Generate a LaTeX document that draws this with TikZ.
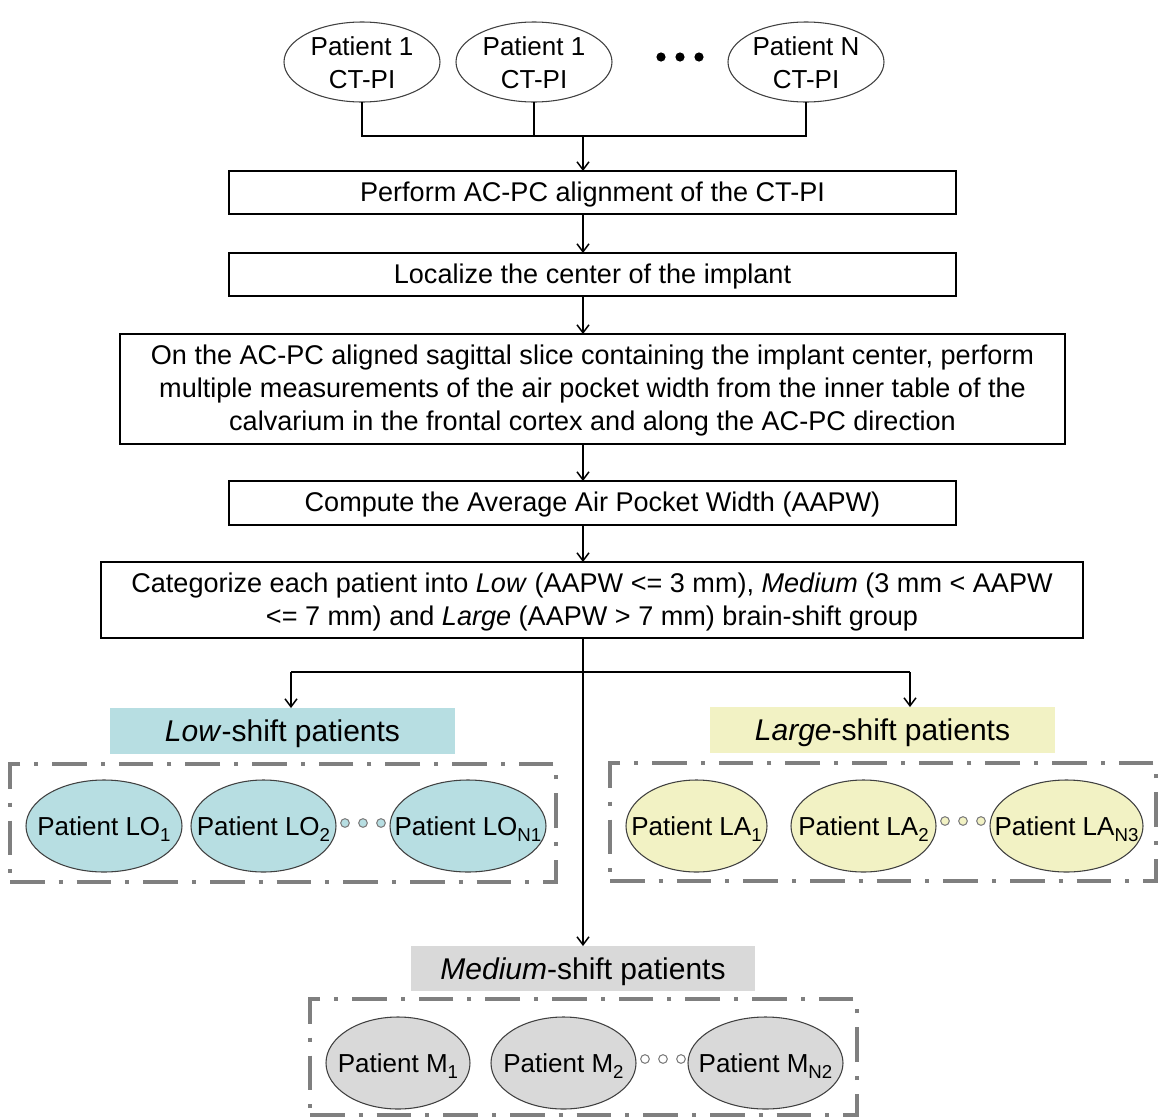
\documentclass[tikz,border=0pt]{standalone}
\usepackage{fontspec}
\setmainfont{Liberation Sans}
\usetikzlibrary{arrows.meta,shapes.geometric}
\definecolor{lblue}{HTML}{B7DEE2}
\definecolor{lyel}{HTML}{F2F2C4}
\definecolor{lgray}{HTML}{D9D9D9}
\definecolor{frgray}{HTML}{7F7F7F}
\definecolor{edge}{HTML}{404040}
\newcommand\ztext[1]{\makebox[0pt]{\raisebox{-0.36em}[0pt][0pt]{#1}}}
\newcommand\ztwo[2]{\makebox[0pt]{\raisebox{-0.38em}[0pt][0pt]{\begin{tabular}{@{}c@{}}#1\\#2\end{tabular}}}}
\newcommand\sbs[1]{\raisebox{-0.22em}{\fontsize{14pt}{14pt}\selectfont #1}}
\newcommand\tb{\rule{0pt}{17.6pt}}
\tikzset{
  sz/.style 2 args={minimum width=#1*0.75pt, minimum height=#2*0.75pt},
  box/.style={draw=black, line width=1pt, inner sep=0pt, outer sep=0pt, align=center,
    font=\fontsize{20.3pt}{24.75pt}\selectfont},
  ell/.style={ellipse, draw=edge, line width=0.8pt, inner sep=0pt, outer sep=0pt,
    font=\fontsize{19.5pt}{24.75pt}\selectfont},
  lbl/.style={inner sep=0pt, outer sep=0pt, text height=21pt, text depth=4.7pt,
    font=\fontsize{22.5pt}{27pt}\selectfont},
  frame/.style={draw=frgray, line width=2.4pt, inner sep=0pt, outer sep=0pt,
    dash pattern=on 26pt off 10.5pt on 3pt off 10.5pt},
  conn/.style={line width=1.3pt},
  arr/.style={line width=1.3pt, -{Straight Barb[length=6pt,width=9pt,line width=1.1pt]}},
  sdot/.style={circle, draw=frgray, line width=0.8pt, minimum size=6.5pt, inner sep=0pt}
}
\begin{document}
\begin{tikzpicture}[x=0.75pt,y=-0.75pt]
\useasboundingbox (0,0) rectangle (1158,1118);
% top ellipses
\node[ell, fill=white, sz={156}{80}] (p1) at (362,62) {\ztwo{Patient 1}{CT-PI}};
\node[ell, fill=white, sz={156}{80}] (p2) at (534,62) {\ztwo{Patient 1}{CT-PI}};
\node[ell, fill=white, sz={156}{80}] (pN) at (806,62) {\ztwo{Patient N}{CT-PI}};
\foreach \xx in {661,680,699} \fill (\xx,57) circle (4.6);
\coordinate (join) at (583,136);
\draw[conn] (p1.south) -- (p1.south |- join) -- (pN.south |- join) -- (pN.south);
\draw[conn] (p2.south) -- (p2.south |- join);
% boxes
\node[box, sz={727}{43}] (b1) at (592.5,192.5) {\tb Perform AC-PC alignment of the CT-PI};
\node[box, sz={727}{43}] (b2) at (592.5,274.5) {\tb Localize the center of the implant};
\node[box, sz={945}{110}] (b3) at (592.5,389) {\tb On the AC-PC aligned sagittal slice containing the implant center, perform\\multiple measurements of the air pocket width from the inner table of the\\calvarium in the frontal cortex and along the AC-PC direction};
\node[box, sz={727}{44}] (b4) at (592.5,503) {\tb Compute the Average Air Pocket Width (AAPW)};
\node[box, sz={982}{76}] (b5) at (592,600) {\tb Categorize each patient into \textit{Low} (AAPW <= 3 mm), \textit{Medium} (3 mm < AAPW\\<= 7 mm) and \textit{Large} (AAPW > 7 mm) brain-shift group};
\draw[arr] (join) -- (join |- b1.north);
\draw[arr] (join |- b1.south) -- (join |- b2.north);
\draw[arr] (join |- b2.south) -- (join |- b3.north);
\draw[arr] (join |- b3.south) -- (join |- b4.north);
\draw[arr] (join |- b4.south) -- (join |- b5.north);
% group labels
\node[lbl, fill=lblue, sz={345}{46}] (lowlbl) at (282.5,731) {\textit{Low}-shift patients};
\node[lbl, fill=lyel, sz={345}{46}] (larlbl) at (882.5,730) {\textit{Large}-shift patients};
\node[lbl, fill=lgray, sz={344}{45}] (medlbl) at (583,968.5) {\textit{Medium}-shift patients};
% branches
\coordinate (bl) at (291,672);
\coordinate (br) at (910,672);
\draw[arr] (join |- b5.south) -- (join |- medlbl.north);
\draw[conn] (bl) -- (br);
\draw[arr] (bl) -- (bl |- lowlbl.north);
\draw[arr] (br) -- (br |- larlbl.north);
% frames
\node[frame, sz={546}{118}] (lowfr) at (283,823) {};
\node[frame, sz={546}{118}] (larfr) at (883,822) {};
\node[frame, sz={547}{116}] (medfr) at (583.5,1057) {};
% low group
\node[ell, fill=lblue, sz={156}{92}] (lo1) at (104,826) {\ztext{Patient LO\sbs{1}}};
\node[ell, fill=lblue, sz={145}{92}] (lo2) at (263.5,826) {\ztext{Patient LO\sbs{2}}};
\node[ell, fill=lblue, sz={156}{92}] (loN) at (468,826) {\ztext{Patient LO\sbs{N1}}};
\foreach \xx [count=\i] in {345,363,381} \node[sdot, fill=lblue] (lod\i) at (\xx,823) {};
% large group
\node[ell, fill=lyel, sz={141}{92}] (la1) at (696.5,826) {\ztext{Patient LA\sbs{1}}};
\node[ell, fill=lyel, sz={145}{92}] (la2) at (863.5,826) {\ztext{Patient LA\sbs{2}}};
\node[ell, fill=lyel, sz={153}{92}] (laN) at (1066.5,826) {\ztext{Patient LA\sbs{N3}}};
\foreach \xx [count=\i] in {945,963,981} \node[sdot, fill=lyel] (lad\i) at (\xx,821) {};
% medium group
\node[ell, fill=lgray, sz={144}{92}] (m1) at (398,1063) {\ztext{Patient M\sbs{1}}};
\node[ell, fill=lgray, sz={145}{92}] (m2) at (563.5,1063) {\ztext{Patient M\sbs{2}}};
\node[ell, fill=lgray, sz={155}{92}] (mN) at (765.5,1063) {\ztext{Patient M\sbs{N2}}};
\foreach \xx [count=\i] in {645,663,681} \node[sdot, fill=white] (md\i) at (\xx,1059) {};
\end{tikzpicture}
\end{document}
